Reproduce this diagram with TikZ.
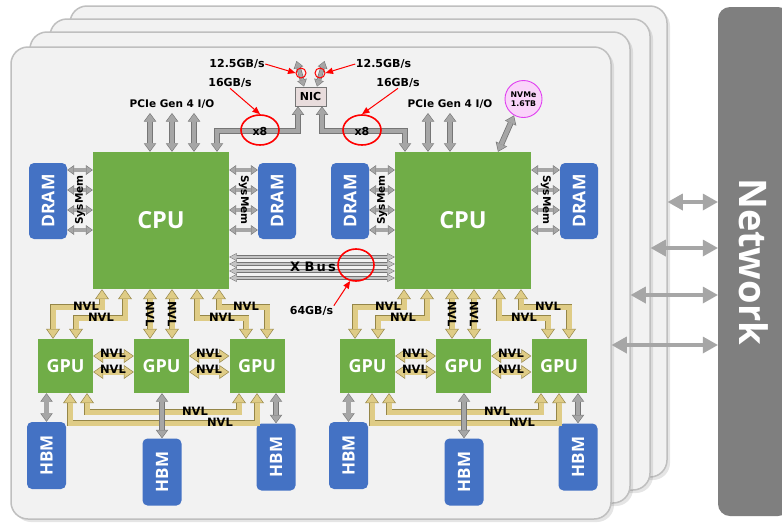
\documentclass[tikz,border=0pt]{standalone}
\usepackage{fontspec}
\usepackage{graphicx}
\setmainfont{DejaVu Sans}
\newfontfamily\osans{Open Sans}
\usetikzlibrary{arrows.meta,shadows,calc,shapes.geometric}
\definecolor{cardfill}{HTML}{F2F2F2}
\definecolor{cardline}{HTML}{BFBFBF}
\definecolor{chipgreen}{HTML}{70AD47}
\definecolor{memblue}{HTML}{4472C4}
\definecolor{greyfill}{HTML}{A6A6A6}
\definecolor{greyline}{HTML}{767676}
\definecolor{xbfill}{HTML}{C4C4C4}
\definecolor{nvlfill}{HTML}{DFCC86}
\definecolor{nvlline}{HTML}{958648}
\definecolor{netgrey}{HTML}{7F7F7F}
\definecolor{nicfill}{HTML}{E8DCDC}
\definecolor{nvmefill}{HTML}{FAD4FA}
\definecolor{nvmeline}{HTML}{E040F0}
\newcommand\fnt[1]{\fontsize{#1}{#1}\selectfont}
\newcommand\FA[3]{\draw[#1 o,#2] #3; \draw[#1 i,#2] #3;}
\begin{document}
\begin{tikzpicture}[x=1pt,y=-1pt,
  card/.style={draw=cardline,line width=1.5pt,fill=cardfill,rounded corners=17pt,inner sep=0pt,
    drop shadow={shadow xshift=3pt,shadow yshift=-3pt,opacity=0.2}},
  netbar/.style={fill=netgrey,rounded corners=12pt,minimum width=72pt,minimum height=509pt,
    text=white,inner sep=0pt,font=\osans\bfseries\fnt{38}},
  netarr/.style={draw=greyfill,line width=4.5pt,
    arrows={Triangle[width=17pt,length=15pt,line width=0pt]-Triangle[width=17pt,length=15pt,line width=0pt]}},
  chip/.style={fill=chipgreen,text=white,inner sep=0pt},
  gpu/.style={chip,minimum width=55pt,minimum height=54pt,font=\osans\bfseries\fnt{18}},
  mem/.style={fill=memblue,rounded corners=5pt,text=white,inner sep=0pt,font=\osans\bfseries\fnt{17.5}},
  hbm/.style={mem,minimum width=39pt,minimum height=67pt,font=\osans\bfseries\fnt{17}},
  nv o/.style={draw=nvlline,line width=6.6pt,>={Triangle[width=14pt,length=10pt,line width=0pt]}},
  nv i/.style={draw=nvlfill,line width=5pt,shorten <=1.1pt,shorten >=1.1pt,>={Triangle[width=11.6pt,length=8.4pt,line width=0pt]}},
  gry o/.style={draw=greyline,line width=5.8pt,>={Triangle[width=12.5pt,length=8.5pt,line width=0pt]}},
  gry i/.style={draw=greyfill,line width=4.2pt,shorten <=1pt,shorten >=1pt,>={Triangle[width=10.2pt,length=7pt,line width=0pt]}},
  sys o/.style={draw=greyline,line width=4.6pt,>={Triangle[width=10pt,length=7pt,line width=0pt]}},
  sys i/.style={draw=greyfill,line width=3.2pt,shorten <=0.9pt,shorten >=0.9pt,>={Triangle[width=7.9pt,length=5.6pt,line width=0pt]}},
  xb o/.style={draw=greyline,line width=3.4pt,>={Triangle[width=8pt,length=7.5pt,line width=0pt]}},
  xb i/.style={draw=xbfill,line width=2pt,shorten <=0.9pt,shorten >=0.9pt,>={Triangle[width=5.8pt,length=5.7pt,line width=0pt]}},
  lbl/.style={inner sep=0pt,font=\bfseries\fnt{10.5}},
  rate/.style={inner sep=0.5pt,font=\bfseries\fnt{11}},
  nvlab/.style={inner sep=0pt,font=\bfseries\fnt{11.5}},
  smlbl/.style={inner sep=0pt,font=\bfseries\fnt{10.5}},
  ring/.style={ellipse,draw=red,line width=1.6pt,inner sep=0pt},
  redarr/.style={draw=red,line width=1pt,-{Triangle[width=6.5pt,length=7.5pt,line width=0pt]}},
  nicbox/.style={fill=nicfill,draw=greyline,line width=0.8pt,minimum width=31pt,minimum height=19pt,inner sep=0pt,font=\bfseries\fnt{11}},
  nvmebox/.style={circle,fill=nvmefill,draw=nvmeline,line width=0.9pt,minimum size=37pt,inner sep=0pt,align=center,font=\bfseries\fontsize{7.8}{9}\selectfont}
]
\useasboundingbox (0,0) rectangle (782,523);
\clip (0,0) rectangle (782,523);
\fill[white] (0,0) rectangle (782,523);

% stacked cards
\node[card,minimum width=597pt,minimum height=471pt] (card4) at (368.5,241.5) {};
\node[card,minimum width=600pt,minimum height=471pt] (card3) at (350,254.5) {};
\node[card,minimum width=600pt,minimum height=471pt] (card2) at (330,267.5) {};
\node[card,minimum width=600pt,minimum height=472pt] (card1) at (311,283) {};

% network
\node[netbar] (net) at (754,261.5) {\rotatebox{-90}{Network}};
\draw[netarr] (card4.east |- 0,202) -- (net.west |- 0,202);
\draw[netarr] (card3.east |- 0,248) -- (net.west |- 0,248);
\draw[netarr] (card2.east |- 0,295) -- (net.west |- 0,295);
\draw[netarr] (card1.east |- 0,345) -- (net.west |- 0,345);

% two halves
\foreach \p/\dx in {L/0,R/302}{
\begin{scope}[xshift=\dx pt]
  \node[chip,minimum width=136pt,minimum height=137pt,font=\osans\bfseries\fnt{23.5}] (\p-cpu) at (161,220.5) {CPU};
  \node[mem,minimum width=38pt,minimum height=76pt] (\p-dl) at (48,201) {\rotatebox{90}{DRAM}};
  \node[mem,minimum width=38pt,minimum height=76pt] (\p-dr) at (277,201) {\rotatebox{90}{DRAM}};
  \node[gpu] (\p-g1) at (65.5,366) {GPU};
  \node[gpu] (\p-g2) at (161.5,366) {GPU};
  \node[gpu] (\p-g3) at (257,366) {GPU};
  \node[hbm] (\p-h1) at (46.5,455.5) {\rotatebox{90}{HBM}};
  \node[hbm] (\p-h2) at (162,472) {\rotatebox{90}{HBM}};
  \node[hbm] (\p-h3) at (276,457) {\rotatebox{90}{HBM}};
  % SysMem links
  \foreach \yy in {170,190,210,230}{
    \FA{sys}{<->}{(\p-dl.east |- 0,\yy) -- (\p-cpu.west |- 0,\yy)}
    \FA{sys}{<->}{(\p-cpu.east |- 0,\yy) -- (\p-dr.west |- 0,\yy)}
  }
  \node[smlbl] (\p-sm1) at (80,200) {\rotatebox{90}{SysMem}};
  \node[smlbl] (\p-sm2) at (244,200) {\rotatebox{-90}{SysMem}};
  % CPU-GPU NVLink
  \FA{nv}{<->}{(102,0 |- \p-cpu.south) -- (102,307) -- (53,307) -- (53,0 |- \p-g1.north)}
  \FA{nv}{<->}{(125,0 |- \p-cpu.south) -- (125,318) -- (76,318) -- (76,0 |- \p-g1.north)}
  \FA{nv}{<->}{(150,0 |- \p-cpu.south) -- (150,0 |- \p-g2.north)}
  \FA{nv}{<->}{(172,0 |- \p-cpu.south) -- (172,0 |- \p-g2.north)}
  \FA{nv}{<->}{(197,0 |- \p-cpu.south) -- (197,318) -- (246,318) -- (246,0 |- \p-g3.north)}
  \FA{nv}{<->}{(219,0 |- \p-cpu.south) -- (219,307) -- (267,307) -- (267,0 |- \p-g3.north)}
  % GPU-GPU NVLink
  \FA{nv}{<->}{(\p-g1.east |- 0,356) -- (\p-g2.west |- 0,356)}
  \FA{nv}{<->}{(\p-g1.east |- 0,372) -- (\p-g2.west |- 0,372)}
  \FA{nv}{<->}{(\p-g2.east |- 0,356) -- (\p-g3.west |- 0,356)}
  \FA{nv}{<->}{(\p-g2.east |- 0,372) -- (\p-g3.west |- 0,372)}
  \FA{nv}{<->}{(87,0 |- \p-g1.south) -- (87,412) -- (239,412) -- (239,0 |- \p-g3.south)}
  \FA{nv}{<->}{(70,0 |- \p-g1.south) -- (70,423) -- (257,423) -- (257,0 |- \p-g3.south)}
  % GPU-HBM
  \FA{gry}{<->}{(\p-h1.north |- \p-g1.south) -- (\p-h1.north)}
  \FA{gry}{<->}{(\p-h2.north |- \p-g2.south) -- (\p-h2.north)}
  \FA{gry}{<->}{(\p-h3.north |- \p-g3.south) -- (\p-h3.north)}
  % NVL labels
  \node[nvlab] (\p-n1) at (86,306) {NVL};
  \node[nvlab] (\p-n2) at (101,317) {NVL};
  \node[nvlab] (\p-n3) at (150,314) {\rotatebox{-90}{NVL}};
  \node[nvlab] (\p-n4) at (172,314) {\rotatebox{-90}{NVL}};
  \node[nvlab] (\p-n5) at (222,317) {NVL};
  \node[nvlab] (\p-n6) at (246,306) {NVL};
  \node[nvlab] (\p-n7) at (113,353) {NVL};
  \node[nvlab] (\p-n8) at (113,369) {NVL};
  \node[nvlab] (\p-n9) at (209,353) {NVL};
  \node[nvlab] (\p-n10) at (209,369) {NVL};
  \node[nvlab] (\p-n11) at (195,411) {NVL};
  \node[nvlab] (\p-n12) at (220,422) {NVL};
\end{scope}
}

% X Bus
\foreach \yy in {257,264,271,278}{
  \FA{xb}{<->}{(L-cpu.east |- 0,\yy) -- (R-cpu.west |- 0,\yy)}
}
\node[inner sep=0pt,font=\bfseries\fnt{13}] (xbus) at (313,267) {X\,\,B\,u\,s};

% top: NIC, PCIe, NVMe
\node[nicbox] (nic) at (310.5,96.5) {NIC};
\node[nvmebox] (nvme) at (523.5,99) {NVMe\\1.6TB};
\coordinate (pp1) at (150,113);
\coordinate (pp2) at (172,113);
\coordinate (pp3) at (194,113);
\coordinate (pp4) at (428,113);
\coordinate (pp5) at (450,113);
\foreach \c in {pp1,pp2,pp3}{\FA{gry}{<->}{(\c) -- (\c |- L-cpu.north)}}
\foreach \c in {pp4,pp5}{\FA{gry}{<->}{(\c) -- (\c |- R-cpu.north)}}
\FA{gry}{<->}{(298,0 |- nic.south) -- (298,131) -- (217,131) -- (217,0 |- L-cpu.north)}
\FA{gry}{<->}{(322,0 |- nic.south) -- (322,131) -- (405,131) -- (405,0 |- R-cpu.north)}
\FA{gry}{<->}{(nvme.240) -- (498,0 |- R-cpu.north)}
\coordinate (na1) at (296.5,61);
\coordinate (na2) at (324.5,61);
\FA{sys}{<->}{(na1) -- ($(nic.north)+(-6.5,0)$)}
\FA{sys}{<->}{(na2) -- ($(nic.north)+(6.5,0)$)}

\node[lbl] (pcieL) at (172,104) {PCIe Gen 4 I/O};
\node[lbl] (pcieR) at (450,104) {PCIe Gen 4 I/O};
\node[rate] (x8L) at (260,131) {x8};
\node[rate] (x8R) at (362,131) {x8};
\node[rate] (r125L) at (237,64) {12.5GB/s};
\node[rate] (r125R) at (383.5,64) {12.5GB/s};
\node[rate] (r16L) at (230,83) {16GB/s};
\node[rate] (r16R) at (398,83) {16GB/s};
\node[rate] (r64) at (311.5,311) {64GB/s};

% red highlights
\node[ring,minimum width=38pt,minimum height=30pt] (ringL) at (260,130) {};
\node[ring,minimum width=38pt,minimum height=30pt] (ringR) at (362,130) {};
\node[ring,minimum width=36pt,minimum height=32pt] (ringX) at (356,265) {};
\node[ring,line width=1pt,minimum size=10pt] (sL) at (301,73) {};
\node[ring,line width=1pt,minimum size=10pt] (sR) at (320,73) {};
\draw[redarr] (r125L.east) -- (sL.west);
\draw[redarr] (r125R.west) -- (sR.east);
\draw[redarr] (r16L.south) -- (ringL.north);
\draw[redarr] (r16R.south) -- (ringR.north);
\draw[redarr] (r64.north east) -- (ringX.250);
\end{tikzpicture}
\end{document}
